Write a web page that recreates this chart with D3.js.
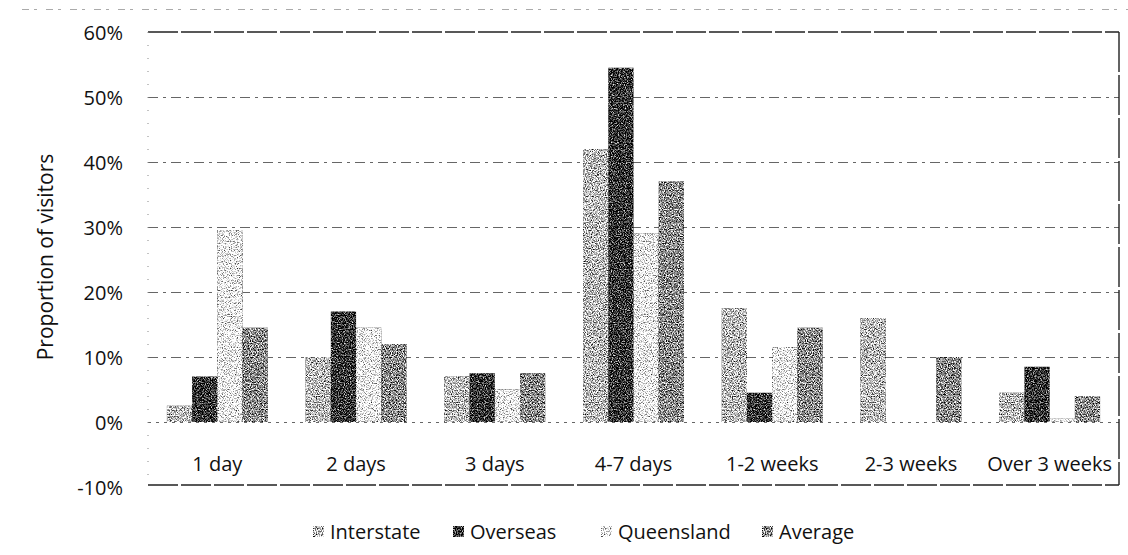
<!DOCTYPE html>
<html>
<head>
<meta charset="utf-8">
<script src="https://cdn.jsdelivr.net/npm/d3@7/dist/d3.min.js"></script>
<style>
  html, body { margin: 0; padding: 0; background: #fff; }
  svg { display: block; }
  text { font-family: "Open Sans", sans-serif; fill: #111; }
</style>
</head>
<body>
<svg id="chart" width="1128" height="555"></svg>
<script>
// Length of stay categories
const categories = ["1 day", "2 days", "3 days", "4-7 days", "1-2 weeks", "2-3 weeks", "Over 3 weeks"];
// Visitor origin series
const seriesNames = ["Interstate", "Overseas", "Queensland", "Average"];
// Proportion of visitors (%) per series, by length of stay
const interstate = [2.5, 10, 7, 42, 17.5, 16, 4.5];
const overseas   = [7, 17, 7.5, 54.5, 4.5, 0, 8.5];
const queensland = [29.5, 14.5, 5, 29, 11.5, 0, 0.5];
const average    = [14.5, 12, 7.5, 37, 14.5, 10, 4];
// Y axis ticks
const yTicks = [-10, 0, 10, 20, 30, 40, 50, 60];

const seriesValues = [interstate, overseas, queensland, average];
const seriesTone = ["#bcbcbc", "#303030", "#f7f7f7", "#8a8a8a"];

const svg = d3.select("#chart");
const W = 1128;
const m = { left: 148, right: 1119, top: 32, bottom: 487 };

// Grain filter: adds speckle noise to each bar's flat grey tone
const defs = svg.append("defs");
const f = defs.append("filter").attr("id", "grain")
  .attr("x", 0).attr("y", 0).attr("width", 1).attr("height", 1)
  .attr("color-interpolation-filters", "sRGB");
f.append("feTurbulence").attr("type", "fractalNoise")
  .attr("baseFrequency", 0.85).attr("numOctaves", 2).attr("seed", 7).attr("result", "noise");
f.append("feColorMatrix").attr("in", "noise").attr("type", "matrix")
  .attr("values", "1 0 0 0 0  1 0 0 0 0  1 0 0 0 0  0 0 0 0 1").attr("result", "gray");
f.append("feComposite").attr("in", "SourceGraphic").attr("in2", "gray")
  .attr("operator", "arithmetic").attr("k1", 0).attr("k2", 1).attr("k3", 2.4).attr("k4", -1.2)
  .attr("result", "mix");
f.append("feComposite").attr("in", "mix").attr("in2", "SourceGraphic").attr("operator", "in");

// Category bands; each group of 4 bars fills 4/5.5 of its band (150% gap)
const xc = d3.scaleBand().domain(categories).range([m.left, m.right]).padding(0);
const band = xc.bandwidth();
const groupW = band * 4 / 5.5;
const xs = d3.scaleBand().domain(seriesNames).range([0, groupW]).padding(0);

const y = d3.scaleLinear().domain([-10, 60]).range([m.bottom, m.top]);

// faint scan line across the top
svg.append("line").attr("x1", 22).attr("x2", W).attr("y1", 9.5).attr("y2", 9.5)
  .attr("stroke", "#aaa").attr("stroke-width", 1.2).attr("stroke-dasharray", "7,5,3,9");

// Gridlines 10%..50%
const grid = svg.append("g");
grid.selectAll("line").data(yTicks.filter(t => t > 0 && t < 60)).join("line")
  .attr("x1", m.left).attr("x2", m.right)
  .attr("y1", d => Math.round(y(d)) + 0.5).attr("y2", d => Math.round(y(d)) + 0.5)
  .attr("stroke", "#666").attr("stroke-width", 1).attr("stroke-dasharray", "10,5,3,5");

// Zero line
svg.append("line").attr("x1", m.left).attr("x2", m.right)
  .attr("y1", Math.round(y(0)) + 0.5).attr("y2", Math.round(y(0)) + 0.5)
  .attr("stroke", "#666").attr("stroke-width", 1).attr("stroke-dasharray", "3,5");

// Bars
const groups = svg.append("g").selectAll("g").data(categories).join("g")
  .attr("transform", c => `translate(${xc(c) + (band - groupW) / 2},0)`);
seriesNames.forEach((s, si) => {
  groups.append("rect")
    .attr("x", xs(s))
    .attr("width", xs.bandwidth())
    .attr("y", (c, i) => y(Math.max(0, seriesValues[si][i])))
    .attr("height", (c, i) => Math.abs(y(seriesValues[si][i]) - y(0)))
    .attr("fill", seriesTone[si])
    .attr("filter", "url(#grain)");
});

// Plot frame: solid top, bottom, right; faint dotted left
svg.append("line").attr("x1", m.left).attr("x2", m.right).attr("y1", m.top).attr("y2", m.top)
  .attr("stroke", "#222").attr("stroke-width", 1.6).attr("stroke-dasharray", "30,3");
svg.append("line").attr("x1", m.left).attr("x2", m.right).attr("y1", m.bottom - 2).attr("y2", m.bottom - 2)
  .attr("stroke", "#222").attr("stroke-width", 1.6).attr("stroke-dasharray", "30,3");
svg.append("line").attr("x1", m.right).attr("x2", m.right).attr("y1", m.top).attr("y2", m.bottom - 2)
  .attr("stroke", "#222").attr("stroke-width", 1.4).attr("stroke-dasharray", "40,3");
svg.append("line").attr("x1", m.left).attr("x2", m.left).attr("y1", m.top).attr("y2", m.bottom - 2)
  .attr("stroke", "#888").attr("stroke-width", 1).attr("stroke-dasharray", "1,12");

// Y axis labels
const yAxis = d3.axisLeft(y).tickValues(yTicks).tickFormat(d => d + "%").tickSize(0).tickPadding(0);
const ya = svg.append("g").attr("transform", `translate(123,0)`).call(yAxis);
ya.select(".domain").remove();
ya.selectAll("text").attr("font-size", 20).attr("font-family", "Open Sans, sans-serif")
  .attr("fill", "#111").attr("dy", "0.35em");

// X axis category labels
const xAxis = d3.axisBottom(xc).tickSize(0).tickPadding(0);
const xa = svg.append("g").attr("transform", `translate(0,471)`).call(xAxis);
xa.select(".domain").remove();
xa.selectAll("text").attr("font-size", 20).attr("font-family", "Open Sans, sans-serif")
  .attr("fill", "#111").attr("dy", 0).attr("y", 0);

// Y title
svg.append("text").attr("transform", "translate(53,257) rotate(-90)")
  .attr("text-anchor", "middle").attr("font-size", 21).text("Proportion of visitors");

// Legend
const legendX = [313, 453, 601, 762];
const lg = svg.append("g").selectAll("g").data(seriesNames).join("g")
  .attr("transform", (d, i) => `translate(${legendX[i]},0)`);
lg.append("rect").attr("x", 0).attr("y", 526).attr("width", 11).attr("height", 11)
  .attr("fill", (d, i) => seriesTone[i]).attr("filter", "url(#grain)");
lg.append("text").attr("x", 17).attr("y", 539).attr("font-size", 20).text(d => d);
</script>
</body>
</html>
